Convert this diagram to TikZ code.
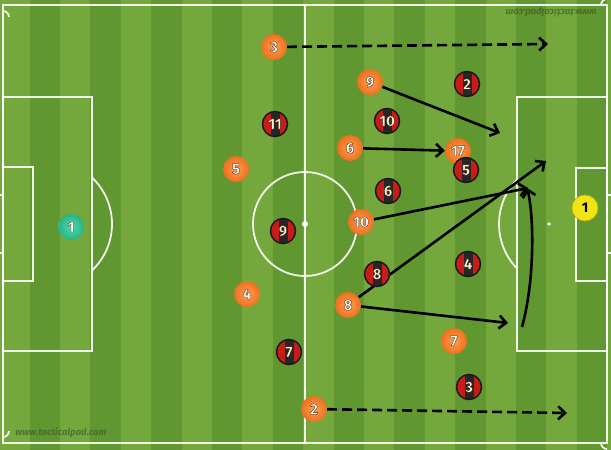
\documentclass[tikz,border=0pt]{standalone}
\usepackage{fontspec}
\setsansfont{Fira Sans}
\newfontfamily\numfam[FakeBold=2]{Fira Sans Bold}
\usetikzlibrary{arrows.meta}
\definecolor{grassL}{RGB}{116,168,60}
\definecolor{grassD}{RGB}{97,151,48}
\definecolor{orng}{RGB}{238,112,30}
\definecolor{orngL}{RGB}{252,160,80}
\definecolor{milan}{RGB}{200,28,24}
\definecolor{cream}{RGB}{252,240,210}
\definecolor{tealgk}{RGB}{40,180,135}
\definecolor{tealgkL}{RGB}{80,215,170}
\definecolor{yelgk}{RGB}{240,228,20}
\definecolor{wmark}{RGB}{55,80,40}
\pgfdeclarelayer{bg}
\pgfdeclarelayer{arrows}
\pgfsetlayers{bg,arrows,main}
\newcommand{\ol}[1]{\special{pdf:literal 0.2 0.08 0 RG}#1}
\tikzset{
  pline/.style={draw=white, line width=1.8pt, opacity=0.9},
  numfont/.style={font=\numfam\fontsize{15}{15}\selectfont},
  orangep/.style={circle, minimum size=26pt, inner sep=0pt, inner color=orngL, outer color=orng, numfont, text=white},
  redp/.style={circle, minimum size=25pt, inner sep=0pt, fill=milan, draw=black!90, line width=1.5pt, numfont, text=cream,
    path picture={\fill[black!85] ([xshift=-4.5pt]path picture bounding box.south) rectangle ([xshift=4.5pt]path picture bounding box.north);}},
  tealp/.style={circle, minimum size=26pt, inner sep=0pt, inner color=tealgkL, outer color=tealgk, numfont, text=white},
  yelp/.style={circle, minimum size=26pt, inner sep=0pt, fill=yelgk, draw=yelgk!80!black, line width=0.8pt, font=\sffamily\bfseries\fontsize{14}{14}\selectfont, text=black},
  arr/.style={draw=black, line width=2.6pt, -{Straight Barb[length=7pt,width=13pt]}},
  dasharr/.style={arr, dash pattern=on 10pt off 5pt},
  wm/.style={font=\sffamily\itshape\bfseries\fontsize{9.5}{9.5}\selectfont, text=wmark, opacity=0.6}
}
\begin{document}
\begin{tikzpicture}[x=1pt,y=-1pt]
\useasboundingbox (0,0) rectangle (611,450);
\begin{pgfonlayer}{bg}
\fill[grassL] (0,0) rectangle (611,450);
\foreach \i in {0,...,9} \fill[grassD] ({29.5+60.8*\i},0) rectangle ({29.5+60.8*\i+30.4},450);
% pitch lines
\draw[pline] (3,5) rectangle (607,443);
\draw[pline] (305,5) -- (305,443);
\draw[pline] (305,224) circle (52);
\fill[white] (305,224) circle (3);
\draw[pline] (3,97) rectangle (92,351);
\draw[pline] (3,167) rectangle (33,281);
\draw[pline] (517,97) rectangle (607,351);
\draw[pline] (576,168) rectangle (607,281);
\begin{scope}
\clip (92,0) rectangle (200,450);
\draw[pline] (48,224) circle (64);
\end{scope}
\begin{scope}
\clip (420,0) rectangle (517,450);
\draw[pline] (563,224) circle (64);
\end{scope}
\fill[white] (549,224) circle (1.8);
\fill[white] (60,224) circle (1.8);
% corner arcs
\draw[pline] (3,11) arc[start angle=-90, end angle=0, radius=6];
\draw[pline] (601,5) arc[start angle=180, end angle=270, radius=6];
\draw[pline] (3,437) arc[start angle=90, end angle=0, radius=6];
\draw[pline] (601,443) arc[start angle=180, end angle=90, radius=6];
% goal ticks
\foreach \yy in {195,253} {\draw[pline] (0,\yy) -- (3,\yy); \draw[pline] (607,\yy) -- (611,\yy);}
\end{pgfonlayer}
% watermarks
\node[wm] (wm1) at (61,433) {www.tacticalpad.com};
\node[wm, rotate=180] (wm2) at (551,12) {www.tacticalpad.com};
% goalkeepers
\node[tealp] (gkA) at (71,227) {\ol{1}};
\node[yelp] (gkB) at (585,208) {1};
% orange team
\node[orangep] (o3) at (274,47) {\ol{3}};
\node[orangep] (o5) at (236,169) {\ol{5}};
\node[orangep] (o4) at (247,294) {\ol{4}};
\node[orangep] (o2) at (314,409) {\ol{2}};
\node[orangep] (o9) at (370,82) {\ol{9}};
\node[orangep] (o6) at (350,148) {\ol{6}};
\node[orangep] (o17) at (458,151) {\ol{17}};
\node[orangep] (o10) at (361,222) {\ol{10}};
\node[orangep] (o8) at (348,305) {\ol{8}};
\node[orangep] (o7) at (454,341) {\ol{7}};
% red team
\node[redp] (r11) at (275,124) {\ol{11}};
\node[redp] (r9) at (283,231) {\ol{9}};
\node[redp] (r7) at (289,352) {\ol{7}};
\node[redp] (r2) at (467,84) {\ol{2}};
\node[redp] (r10) at (387,121) {\ol{10}};
\node[redp] (r5) at (466,170) {\ol{5}};
\node[redp] (r6) at (388,191) {\ol{6}};
\node[redp] (r8) at (377,274) {\ol{8}};
\node[redp] (r4) at (468,264) {\ol{4}};
\node[redp] (r3) at (469,387) {\ol{3}};
% arrow endpoints
\coordinate (e3) at (548,44);
\coordinate (e9) at (500,133);
\coordinate (e10) at (528,188);
\coordinate (e8a) at (546,161);
\coordinate (e8b) at (508,323);
\coordinate (c1) at (522,327);
\coordinate (c2) at (527,188);
\coordinate (e2) at (567,413);
\begin{pgfonlayer}{arrows}
\draw[dasharr] (o3) -- (e3);
\draw[arr] (o9) -- (e9);
\draw[arr] (o6) -- (o17);
\draw[arr] (o10) -- (e10);
\draw[arr] (o8) -- (e8a);
\draw[arr] (o8) -- (e8b);
\draw[arr] (c1) .. controls (535,280) and (534,215) .. (c2);
\draw[dasharr] (o2) -- (e2);
\end{pgfonlayer}
\end{tikzpicture}
\end{document}
